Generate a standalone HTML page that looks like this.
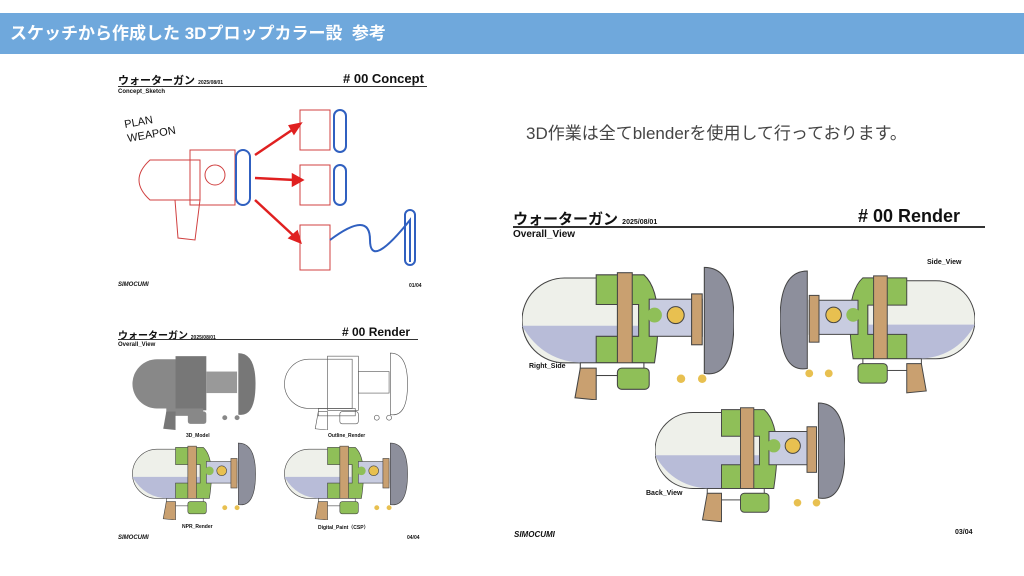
<!DOCTYPE html>
<html><head><meta charset="utf-8"><style>
body{margin:0;width:1024px;height:576px;background:#fff;position:relative;overflow:hidden;font-family:"Liberation Sans","Noto Sans CJK JP",sans-serif}
.bar{position:absolute;left:0;top:13px;width:1024px;height:41px;background:#6fa8dc;color:#fff;font-weight:bold;font-size:17px;line-height:41px;padding-left:10px;box-sizing:border-box}
.t{position:absolute;font-weight:bold;color:#111;white-space:nowrap}
.ln{position:absolute;height:1px;background:#333}
svg{position:absolute;left:0;top:0}
</style></head><body>
<div class="bar">スケッチから作成した 3Dプロップカラー設&nbsp; 参考</div>

<div class="t" style="left:526px;top:119px;font-size:17px;font-weight:normal;color:#444">3D作業は全てblenderを使用して行っております。</div>

<!-- slide 1 -->
<div class="t" style="left:118px;top:72px;font-size:11px">ウォーターガン <span style="font-size:5px">2025/08/01</span></div>
<div class="t" style="left:343px;top:71px;font-size:13px"># 00 Concept</div>
<div class="ln" style="left:118px;top:86px;width:309px"></div>
<div class="t" style="left:118px;top:89px;font-size:6px">Concept_Sketch</div>
<div class="t" style="left:118px;top:282px;font-size:6px;font-style:italic">SIMOCUMI</div>
<div class="t" style="left:409px;top:283px;font-size:5px">01/04</div>

<!-- slide 2 -->
<div class="t" style="left:118px;top:327px;font-size:10px">ウォーターガン <span style="font-size:5px">2025/08/01</span></div>
<div class="t" style="left:342px;top:325px;font-size:12px"># 00 Render</div>
<div class="ln" style="left:118px;top:339px;width:300px"></div>
<div class="t" style="left:118px;top:342px;font-size:6px">Overall_View</div>
<div class="t" style="left:186px;top:433px;font-size:5px">3D_Model</div>
<div class="t" style="left:328px;top:433px;font-size:5px">Outline_Render</div>
<div class="t" style="left:182px;top:524px;font-size:5px">NPR_Render</div>
<div class="t" style="left:318px;top:524px;font-size:5px">Digital_Paint（CSP）</div>
<div class="t" style="left:118px;top:535px;font-size:6px;font-style:italic">SIMOCUMI</div>
<div class="t" style="left:407px;top:535px;font-size:5px">04/04</div>

<!-- slide 3 -->
<div class="t" style="left:513px;top:208px;font-size:15px">ウォーターガン <span style="font-size:7px">2025/08/01</span></div>
<div class="t" style="left:858px;top:206px;font-size:18px"># 00 Render</div>
<div class="ln" style="left:513px;top:226px;width:472px;height:2px"></div>
<div class="t" style="left:513px;top:229px;font-size:10px">Overall_View</div>
<div class="t" style="left:529px;top:363px;font-size:7px">Right_Side</div>
<div class="t" style="left:927px;top:259px;font-size:7px">Side_View</div>
<div class="t" style="left:646px;top:490px;font-size:7px">Back_View</div>
<div class="t" style="left:514px;top:530px;font-size:8px;font-style:italic">SIMOCUMI</div>
<div class="t" style="left:955px;top:529px;font-size:7px">03/04</div>

<svg width="1024" height="576" viewBox="0 0 1024 576">
<defs>
<symbol id="gc" viewBox="0 0 200 130">
 <path d="M40 15 H110 V95 H40 A40 40 0 0 1 40 15Z" fill="#eef0ea" stroke="#444"/>
 <path d="M0 60 Q20 95 60 95 H110 V60Z" fill="#b8bcd8"/>
 <path d="M70 12 H115 Q135 30 125 95 H70 V70 H110 V40 H70Z" fill="#8fbf58" stroke="#444"/>
 <rect x="90" y="10" width="14" height="88" fill="#c9a070" stroke="#444"/>
 <rect x="120" y="35" width="50" height="35" fill="#c8cce0" stroke="#444"/>
 <circle cx="125" cy="50" r="7" fill="#8fbf58"/>
 <circle cx="145" cy="50" r="8" fill="#e8c050" stroke="#444"/>
 <rect x="160" y="30" width="10" height="48" fill="#c9a070" stroke="#444"/>
 <path d="M172 5 Q200 5 200 55 Q200 110 172 105Z" fill="#8d8f9c" stroke="#444"/>
 <rect x="55" y="95" width="60" height="12" fill="#fff" stroke="#444"/>
 <path d="M55 100 L70 100 L70 130 L50 128Z" fill="#c9a070" stroke="#444"/>
 <rect x="90" y="100" width="30" height="20" rx="4" fill="#8fbf58" stroke="#444"/>
 <circle cx="150" cy="110" r="4" fill="#e8c050"/><circle cx="170" cy="110" r="4" fill="#e8c050"/>
</symbol>
<symbol id="gg" viewBox="0 0 200 130">
 <path d="M40 15 H110 V95 H40 A40 40 0 0 1 40 15Z" fill="#888"/>
 <rect x="70" y="10" width="50" height="88" fill="#777"/>
 <rect x="120" y="35" width="50" height="35" fill="#999"/>
 <path d="M172 5 Q200 5 200 55 Q200 110 172 105Z" fill="#777"/>
 <rect x="55" y="95" width="60" height="12" fill="#888"/>
 <path d="M55 100 L70 100 L70 130 L50 128Z" fill="#777"/>
 <rect x="90" y="100" width="30" height="20" rx="4" fill="#888"/>
 <circle cx="150" cy="110" r="4" fill="#888"/><circle cx="170" cy="110" r="4" fill="#888"/>
</symbol>
<symbol id="go" viewBox="0 0 200 130">
 <g fill="none" stroke="#555">
 <path d="M40 15 H110 V95 H40 A40 40 0 0 1 40 15Z"/>
 <rect x="70" y="10" width="50" height="88"/>
 <rect x="120" y="35" width="50" height="35"/>
 <path d="M172 5 Q200 5 200 55 Q200 110 172 105Z"/>
 <rect x="55" y="95" width="60" height="12"/>
 <path d="M55 100 L70 100 L70 130 L50 128Z"/>
 <rect x="90" y="100" width="30" height="20" rx="4"/>
 <circle cx="150" cy="110" r="4"/><circle cx="170" cy="110" r="4"/></g>
</symbol>
</defs>

<!-- concept sketch -->
<g fill="none" stroke="#d04040" stroke-width="1">
 <path d="M150 160 H200 V200 H150 Q128 180 150 160Z"/>
 <rect x="190" y="150" width="45" height="55"/>
 <path d="M175 200 L200 200 L195 240 L178 238Z"/>
 <circle cx="215" cy="175" r="10"/>
 <path d="M300 110 h30 v40 h-30z M300 165 h30 v40 h-30z M300 225 h30 v45 h-30z"/>
</g>
<g fill="none" stroke="#3060c0" stroke-width="2">
 <rect x="236" y="150" width="14" height="55" rx="7"/>
 <rect x="334" y="110" width="12" height="42" rx="6"/>
 <rect x="334" y="165" width="12" height="40" rx="6"/>
 <path d="M330 240 Q370 210 370 240 T410 220 V262"/>
 <rect x="405" y="210" width="10" height="55" rx="5"/>
</g>
<g stroke="#e02020" stroke-width="2.5" fill="#e02020">
 <line x1="255" y1="155" x2="295" y2="128"/><polygon points="300,124 290,126 294,133"/>
 <line x1="255" y1="178" x2="295" y2="180"/><polygon points="302,180 293,175 293,185"/>
 <line x1="255" y1="200" x2="295" y2="237"/><polygon points="300,242 297,232 290,238"/>
</g>
<text x="125" y="128" font-size="11" font-family="Liberation Sans" fill="#111" transform="rotate(-10 125 128)">PLAN</text>
<text x="128" y="142" font-size="11" font-family="Liberation Sans" fill="#111" transform="rotate(-10 128 142)">WEAPON</text>

<use href="#gg" x="128" y="350" width="132" height="80"/>
<use href="#go" x="280" y="350" width="132" height="80"/>
<use href="#gc" x="128" y="440" width="132" height="80"/>
<use href="#gc" x="280" y="440" width="132" height="80"/>

<use href="#gc" x="522" y="262" width="212" height="138"/>
<g transform="translate(975 262) scale(-1 1)"><use href="#gc" x="0" y="0" width="195" height="135"/></g>
<use href="#gc" x="655" y="395" width="190" height="130"/>
</svg>
</body></html>
